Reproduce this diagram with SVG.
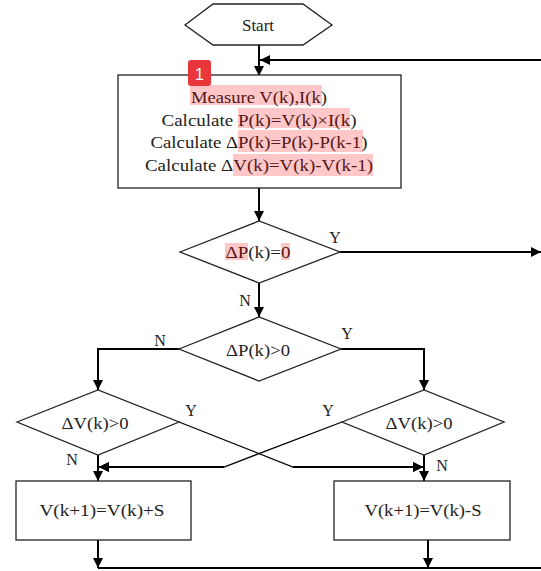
<svg xmlns="http://www.w3.org/2000/svg" width="541" height="571" viewBox="0 0 541 571">
<style>
.shape{fill:#fff;stroke:#222;stroke-width:1.3}
.con{fill:none;stroke:#000;stroke-width:2}
.t{font-family:"Liberation Serif","Times New Roman",serif;font-size:17px;fill:#222;text-anchor:middle}
.lbl{font-family:"Liberation Serif","Times New Roman",serif;font-size:16px;fill:#222;text-anchor:middle}
.hl{fill:#ff0000;opacity:0.22}
</style>
<defs>
<marker id="ah" markerUnits="userSpaceOnUse" markerWidth="10" markerHeight="10" refX="10" refY="5" orient="auto" viewBox="0 0 10 10">
<path d="M0,0 L10,5 L0,10 z" fill="#000"/>
</marker>
</defs>
<g id="connectors">
<path class="con" d="M259,45 V76" marker-end="url(#ah)"/>
<path class="con" d="M541,60 H260" marker-end="url(#ah)"/>
<path class="con" d="M259,188 V221" marker-end="url(#ah)"/>
<path class="con" d="M340,252 H541" marker-end="url(#ah)"/>
<path class="con" d="M259,283 V317" marker-end="url(#ah)"/>
<path class="con" d="M179,349 H98 V390" marker-end="url(#ah)"/>
<path class="con" d="M341,349 H424 V390" marker-end="url(#ah)"/>
<path class="con" d="M98,455 V481" marker-end="url(#ah)"/>
<path class="con" d="M424,455 V481" marker-end="url(#ah)"/>
<path class="con" d="M179,422 L293,467 H423" marker-end="url(#ah)" style="stroke-width:1.3"/>
<path class="con" d="M342,422 L224,467 H99" marker-end="url(#ah)" style="stroke-width:1.3"/>
<path class="con" d="M293,467 H423" marker-end="url(#ah)"/>
<path class="con" d="M224,467 H99" marker-end="url(#ah)"/>
<path class="con" d="M98,540 V568" marker-end="url(#ah)"/>
<path class="con" d="M428,540 V568" marker-end="url(#ah)"/>
<path class="con" d="M98,568 H541"/>
</g>
<g id="start">
<polygon class="shape" points="185,25 213,4 303,4 332,25 303,45 213,45"/>
<text class="t" x="258" y="31">Start</text>
</g>
<g id="measure">
<rect class="shape" x="118" y="75" width="283" height="113"/>
<text class="t" x="259" y="103" textLength="136" lengthAdjust="spacingAndGlyphs">Measure V(k),I(k)</text>
<text class="t" x="259" y="126" textLength="195" lengthAdjust="spacingAndGlyphs">Calculate P(k)=V(k)×I(k)</text>
<text class="t" x="259" y="148" textLength="217" lengthAdjust="spacingAndGlyphs">Calculate ΔP(k)=P(k)-P(k-1)</text>
<text class="t" x="259" y="171" textLength="228" lengthAdjust="spacingAndGlyphs">Calculate ΔV(k)=V(k)-V(k-1)</text>
<rect class="hl" x="190" y="85" width="132" height="20"/>
<rect class="hl" x="238" y="108" width="112" height="20"/>
<rect class="hl" x="238" y="130" width="125" height="22"/>
<rect class="hl" x="233" y="154" width="140" height="22"/>
</g>
<g id="badge">
<rect x="188" y="60" width="23" height="26" rx="3" fill="#e8363a"/>
<text x="199.5" y="80" font-family="Liberation Sans, Arial, sans-serif" font-size="16" fill="#fff" text-anchor="middle">1</text>
</g>
<g id="dec1">
<polygon class="shape" points="180,252 259,221 340,252 259,283"/>
<text class="t" x="258" y="258" textLength="65" lengthAdjust="spacingAndGlyphs">ΔP(k)=0</text>
<rect class="hl" x="225" y="243" width="23" height="17"/>
<rect class="hl" x="281" y="243" width="9" height="17"/>
<text class="lbl" x="335" y="243">Y</text>
<text class="lbl" x="245" y="306">N</text>
</g>
<g id="dec2">
<polygon class="shape" points="179,349 259,317 341,349 259,381"/>
<text class="t" x="258" y="356" textLength="64" lengthAdjust="spacingAndGlyphs">ΔP(k)&gt;0</text>
<text class="lbl" x="160" y="346">N</text>
<text class="lbl" x="347" y="339">Y</text>
</g>
<g id="dec3">
<polygon class="shape" points="17,422 98,390 179,422 98,455"/>
<text class="t" x="95" y="429" textLength="67" lengthAdjust="spacingAndGlyphs">ΔV(k)&gt;0</text>
<text class="lbl" x="191" y="416">Y</text>
<text class="lbl" x="72" y="465">N</text>
</g>
<g id="dec4">
<polygon class="shape" points="342,422 424,390 504,422 424,455"/>
<text class="t" x="419" y="429" textLength="67" lengthAdjust="spacingAndGlyphs">ΔV(k)&gt;0</text>
<text class="lbl" x="328" y="416">Y</text>
<text class="lbl" x="442" y="471">N</text>
</g>
<g id="inc">
<rect class="shape" x="16" y="481" width="175" height="59"/>
<text class="t" x="102" y="516" textLength="125" lengthAdjust="spacingAndGlyphs">V(k+1)=V(k)+S</text>
</g>
<g id="dec">
<rect class="shape" x="334" y="481" width="176" height="59"/>
<text class="t" x="423" y="516" textLength="117" lengthAdjust="spacingAndGlyphs">V(k+1)=V(k)-S</text>
</g>
</svg>
